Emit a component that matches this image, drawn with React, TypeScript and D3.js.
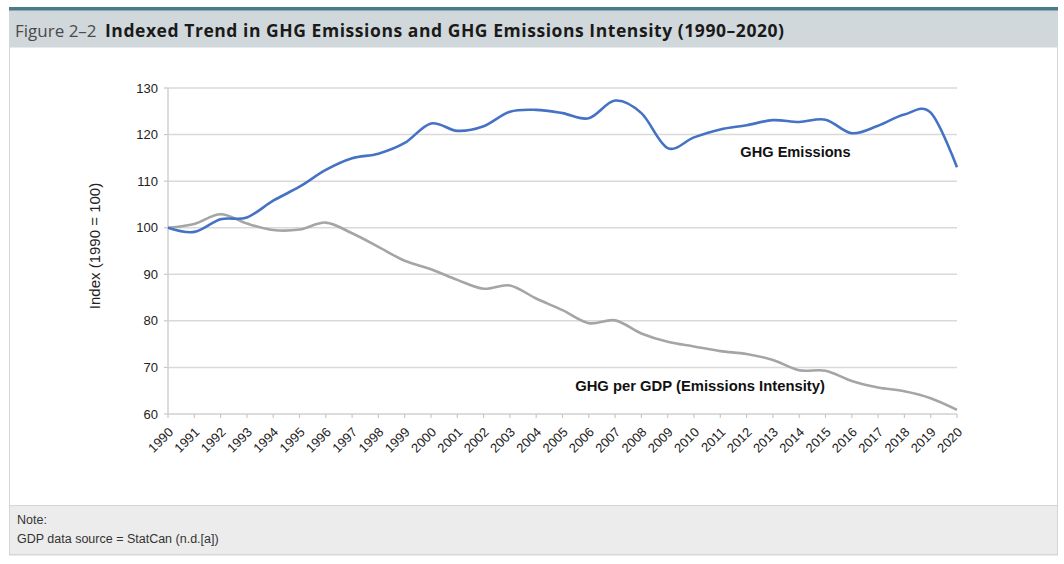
import React from "react";
import * as d3 from "d3";

const years = d3.range(1990, 2021);
const yearLabels = years.map(String);
const ghgEmissions = [
  100, 99.1, 101.8, 102.2, 105.8, 108.8, 112.4, 114.9, 115.9, 118.2,
  122.4, 120.8, 121.8, 124.9, 125.3, 124.6, 123.5, 127.3, 124.6, 117.1,
  119.4, 121.1, 122.0, 123.1, 122.7, 123.2, 120.3, 121.9, 124.3, 124.7,
  113.0,
];
const ghgPerGdp = [
  100, 100.8, 102.9, 100.9, 99.5, 99.6, 101.1, 98.8, 95.9, 92.9,
  91.1, 88.8, 86.9, 87.6, 84.8, 82.3, 79.5, 80.1, 77.3, 75.5,
  74.5, 73.5, 72.9, 71.6, 69.4, 69.3, 67.1, 65.7, 64.9, 63.4,
  60.9,
];
const yTicks = [60, 70, 80, 90, 100, 110, 120, 130];

const W = 1064;
const H = 564;
const plot = { left: 168, right: 957, top: 88, bottom: 414 };

export default function App() {
  const x = d3.scaleLinear().domain([1990, 2020]).range([plot.left, plot.right]);
  const y = d3.scaleLinear().domain([60, 130]).range([plot.bottom, plot.top]);
  const line = d3
    .line<number>()
    .x((_, i) => x(years[i]))
    .y((d) => y(d))
    .curve(d3.curveCatmullRom.alpha(0));

  const axisFont = "Liberation Sans, Arial, sans-serif";
  const titleFont = "'Open Sans', 'Noto Sans', sans-serif";

  return (
    <svg
      width={W}
      height={H}
      style={{ position: "absolute", left: 0, top: 0 }}
    >
      <rect x={0} y={0} width={W} height={H} fill="#ffffff" />
      {/* frame */}
      <rect x={9.5} y={10} width={1048} height={545} fill="#ffffff" stroke="#d6d6d6" />
      <rect x={9} y={10} width={1049} height={37.5} fill="#d1d8db" />
      <rect x={9} y={7} width={1049} height={3.5} fill="#4b7b87" />
      <text x={15} y={37} fontFamily={titleFont} fontSize={17} fill="#4a4a4a">
        Figure 2–2
      </text>
      <text
        x={105}
        y={37}
        fontFamily={titleFont}
        fontSize={17.5}
        fontWeight="bold"
        fill="#1a1a1a"
        textLength={679}
        lengthAdjust="spacing"
      >
        Indexed Trend in GHG Emissions and GHG Emissions Intensity (1990–2020)
      </text>

      {/* note area */}
      <rect x={9.5} y={505.5} width={1048} height={49} fill="#ececec" stroke="#d6d6d6" />
      <text x={17} y={524} fontFamily={axisFont} fontSize={12.5} fill="#333">
        Note:
      </text>
      <text x={17} y={543} fontFamily={axisFont} fontSize={12.5} fill="#333">
        GDP data source = StatCan (n.d.[a])
      </text>

      {/* gridlines */}
      {yTicks.map((t) => (
        <g key={t}>
          {t !== 60 && (
            <line
              x1={plot.left}
              x2={plot.right}
              y1={y(t)}
              y2={y(t)}
              stroke="#d9d9d9"
              strokeWidth={1.5}
            />
          )}
          <line x1={plot.left - 4} x2={plot.left} y1={y(t)} y2={y(t)} stroke="#c8c8c8" strokeWidth={1.2} />
          <text
            x={plot.left - 10}
            y={y(t)}
            dy="0.35em"
            textAnchor="end"
            fontFamily={axisFont}
            fontSize={13}
            fill="#222"
          >
            {t}
          </text>
        </g>
      ))}
      {/* axes */}
      <line x1={plot.left} x2={plot.left} y1={plot.top} y2={plot.bottom} stroke="#d0d0d0" strokeWidth={1.5} />
      <line x1={plot.left} x2={plot.right} y1={plot.bottom} y2={plot.bottom} stroke="#d0d0d0" strokeWidth={1.5} />
      {years.map((yr, i) => (
        <g key={yr}>
          <line x1={x(yr)} x2={x(yr)} y1={plot.bottom} y2={plot.bottom + 4} stroke="#c8c8c8" strokeWidth={1.2} />
          <text
            transform={`translate(${x(yr) + 6},${plot.bottom + 19}) rotate(-45)`}
            textAnchor="end"
            fontFamily={axisFont}
            fontSize={13}
            fill="#222"
          >
            {yearLabels[i]}
          </text>
        </g>
      ))}
      <text
        transform={`translate(100,246) rotate(-90)`}
        textAnchor="middle"
        fontFamily={axisFont}
        fontSize={15}
        fill="#222"
      >
        Index (1990 = 100)
      </text>

      {/* lines */}
      <path d={line(ghgPerGdp) || ""} fill="none" stroke="#a5a5a5" strokeWidth={2.6} />
      <path d={line(ghgEmissions) || ""} fill="none" stroke="#4472c4" strokeWidth={2.6} />

      <text x={795.5} y={157} textAnchor="middle" fontFamily={axisFont} fontSize={14.6} fontWeight="bold" fill="#111">
        GHG Emissions
      </text>
      <text x={700} y={391} textAnchor="middle" fontFamily={axisFont} fontSize={14.8} fontWeight="bold" fill="#111">
        GHG per GDP (Emissions Intensity)
      </text>
    </svg>
  );
}
